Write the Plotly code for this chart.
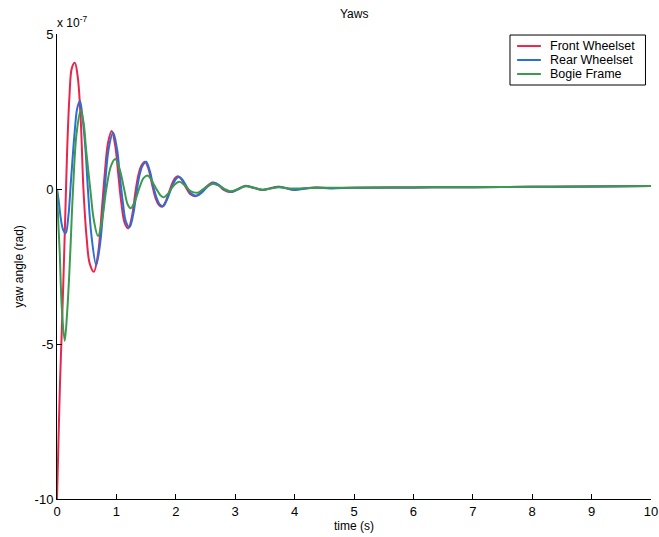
import plotly.graph_objects as go

SCALE = 1e-7

# Front wheelset (values in units of 1e-7 rad)
t_front = [0, 0.02, 0.05, 0.08, 0.11, 0.14, 0.17, 0.21, 0.25, 0.30, 0.35, 0.40, 0.445, 0.50, 0.55,
           0.62, 0.69, 0.75, 0.80, 0.86, 0.92, 0.98, 1.03, 1.08, 1.14, 1.20, 1.26, 1.32, 1.37, 1.42,
           1.48, 1.54, 1.60, 1.66, 1.71, 1.77, 1.83, 1.89, 1.94, 1.99, 2.04, 2.10, 2.17, 2.24, 2.33,
           2.42, 2.50, 2.62, 2.72, 2.80, 2.92, 3.03, 3.16, 3.30, 3.44, 3.58, 3.72, 3.85, 3.98, 4.15,
           4.35, 4.6, 5.0, 6.0, 7.0, 8.0, 9.0, 10.0]
v_front = [-10, -8.5, -6.3, -4.6, -2.8, -0.8, 1.2, 3.0, 3.9, 4.07, 3.6, 2.2, 0.0, -1.6, -2.4,
           -2.67, -2.1, -0.8, 0.4, 1.5, 1.87, 1.4, 0.5, -0.4, -1.1, -1.27, -0.9, -0.1, 0.45, 0.75,
           0.88, 0.65, 0.15, -0.3, -0.5, -0.57, -0.4, -0.08, 0.18, 0.36, 0.41, 0.3, 0.05, -0.16, -0.23,
           -0.12, 0.05, 0.21, 0.12, -0.02, -0.1, -0.02, 0.1, 0.04, -0.03, 0.02, 0.07, 0.03, -0.02, 0.02,
           0.05, 0.03, 0.04, 0.05, 0.06, 0.07, 0.08, 0.1]

# Rear wheelset
t_rear = [0, 0.03, 0.06, 0.10, 0.146, 0.19, 0.24, 0.30, 0.34, 0.386, 0.43, 0.48, 0.52, 0.58,
          0.66, 0.73, 0.80, 0.87, 0.945, 1.01, 1.06, 1.11, 1.16, 1.22, 1.28, 1.34, 1.39, 1.44,
          1.50, 1.56, 1.62, 1.68, 1.73, 1.79, 1.85, 1.91, 1.96, 2.01, 2.06, 2.12, 2.19, 2.26, 2.35,
          2.44, 2.52, 2.64, 2.74, 2.82, 2.94, 3.05, 3.18, 3.32, 3.46, 3.60, 3.74, 3.87, 4.0, 4.17,
          4.37, 4.6, 5.0, 6.0, 7.0, 8.0, 9.0, 10.0]
v_rear = [0, -0.4, -0.9, -1.3, -1.43, -0.9, 0.4, 1.9, 2.6, 2.84, 2.3, 1.26, 0.0, -1.5,
          -2.45, -1.7, -0.1, 1.3, 1.82, 1.3, 0.4, -0.45, -1.05, -1.23, -0.85, -0.1, 0.45, 0.75,
          0.88, 0.6, 0.1, -0.3, -0.5, -0.55, -0.35, -0.05, 0.18, 0.34, 0.39, 0.28, 0.05, -0.15, -0.22,
          -0.11, 0.05, 0.2, 0.11, -0.02, -0.09, -0.01, 0.1, 0.04, -0.03, 0.02, 0.07, 0.02, -0.03, 0.01,
          0.05, 0.02, 0.04, 0.05, 0.06, 0.07, 0.08, 0.1]

# Bogie frame
t_bogie = [0, 0.02, 0.045, 0.08, 0.13, 0.17, 0.20, 0.225, 0.27, 0.33, 0.40, 0.45, 0.49, 0.56,
           0.62, 0.69, 0.76, 0.83, 0.91, 0.98, 1.06, 1.13, 1.19, 1.24, 1.31, 1.39, 1.46, 1.53,
           1.61, 1.68, 1.74, 1.80, 1.87, 1.94, 2.01, 2.07, 2.15, 2.23, 2.30, 2.37, 2.45, 2.54,
           2.63, 2.73, 2.82, 2.92, 3.04, 3.17, 3.31, 3.45, 3.60, 3.74, 3.90, 4.1, 4.5, 5.0,
           6.0, 7.0, 8.0, 9.0, 10.0]
v_bogie = [0, -1.0, -2.0, -3.8, -4.9, -4.0, -3.0, -1.97, 0.0, 1.8, 2.55, 2.1, 1.26, 0.0,
           -1.0, -1.52, -1.0, 0.0, 0.75, 0.97, 0.6, 0.0, -0.5, -0.62, -0.4, 0.05, 0.36, 0.43,
           0.22, -0.02, -0.2, -0.27, -0.15, 0.05, 0.19, 0.23, 0.12, -0.04, -0.11, -0.12, -0.02, 0.1,
           0.17, 0.1, 0.0, -0.07, -0.01, 0.09, 0.04, -0.02, 0.02, 0.06, 0.02, 0.02, 0.04, 0.04,
           0.05, 0.06, 0.07, 0.08, 0.1]

x_ticks = [0, 1, 2, 3, 4, 5, 6, 7, 8, 9, 10]
y_ticks = [-10, -5, 0, 5]
y_tick_text = ["-10", "-5", "0", "5"]

series_names = ["Front Wheelset", "Rear Wheelset", "Bogie Frame"]
series_colors = ["#e8254d", "#2b6fd6", "#3c9a4c"]
series_t = [t_front, t_rear, t_bogie]
series_v = [v_front, v_rear, v_bogie]

fig = go.Figure()
for name, t, v, col in zip(series_names, series_t, series_v, series_colors):
    fig.add_trace(go.Scatter(
        x=t, y=[val * SCALE for val in v], mode="lines", name=name,
        line=dict(color=col, width=2, shape="spline", smoothing=1.0),
        showlegend=False,
    ))

font_family = "Liberation Sans, Arial, sans-serif"

fig.update_layout(
    width=659, height=537,
    margin=dict(l=57, r=8, t=34, b=38, autoexpand=False),
    paper_bgcolor="white", plot_bgcolor="white",
    font=dict(family=font_family, size=12, color="black"),
    title=dict(text="Yaws", x=0.5375, xanchor="center", y=0.975, yanchor="middle",
               font=dict(size=12, family=font_family, color="black")),
    xaxis=dict(range=[0, 10], tickmode="array", tickvals=x_ticks,
               ticks="inside", ticklen=5, tickcolor="black",
               showline=True, linecolor="black", linewidth=1, mirror=False,
               showgrid=False, zeroline=False, automargin=False,
               title=dict(text="time (s)", standoff=2, font=dict(size=12)),
               tickfont=dict(size=13)),
    yaxis=dict(range=[-10 * SCALE, 5 * SCALE], tickmode="array",
               tickvals=[v * SCALE for v in y_ticks], ticktext=y_tick_text,
               ticks="inside", ticklen=5, tickcolor="black",
               showline=True, linecolor="black", linewidth=1, mirror=False,
               showgrid=False, zeroline=False, automargin=False,
               title=dict(text="yaw angle (rad)", standoff=8, font=dict(size=12)),
               tickfont=dict(size=13)),
)

fig.add_annotation(text="x 10<sup>-7</sup>", xref="paper", yref="paper",
                   x=0, y=1.0, xanchor="left", yanchor="bottom", showarrow=False,
                   xshift=-2, yshift=2, font=dict(size=12, family=font_family))

# Compact legend box (matches the original's tight item spacing)
leg_x0, leg_x1 = 0.7626, 0.9907
leg_top, leg_bot = 0.9978, 0.8903
fig.add_shape(type="rect", xref="paper", yref="paper",
              x0=leg_x0, x1=leg_x1, y0=leg_bot, y1=leg_top,
              line=dict(color="black", width=1), fillcolor="white", layer="above")
row_step = (leg_top - leg_bot) / 3.4
for i, (name, col) in enumerate(zip(series_names, series_colors)):
    yy = leg_top - row_step * (0.75 + i * 0.95)
    fig.add_shape(type="line", xref="paper", yref="paper",
                  x0=leg_x0 + 0.012, x1=leg_x0 + 0.052, y0=yy, y1=yy,
                  line=dict(color=col, width=2), layer="above")
    fig.add_annotation(text=name, xref="paper", yref="paper",
                       x=leg_x0 + 0.064, y=yy, xanchor="left", yanchor="middle",
                       showarrow=False, font=dict(size=12.5, family=font_family))

fig.write_html("out.html")
